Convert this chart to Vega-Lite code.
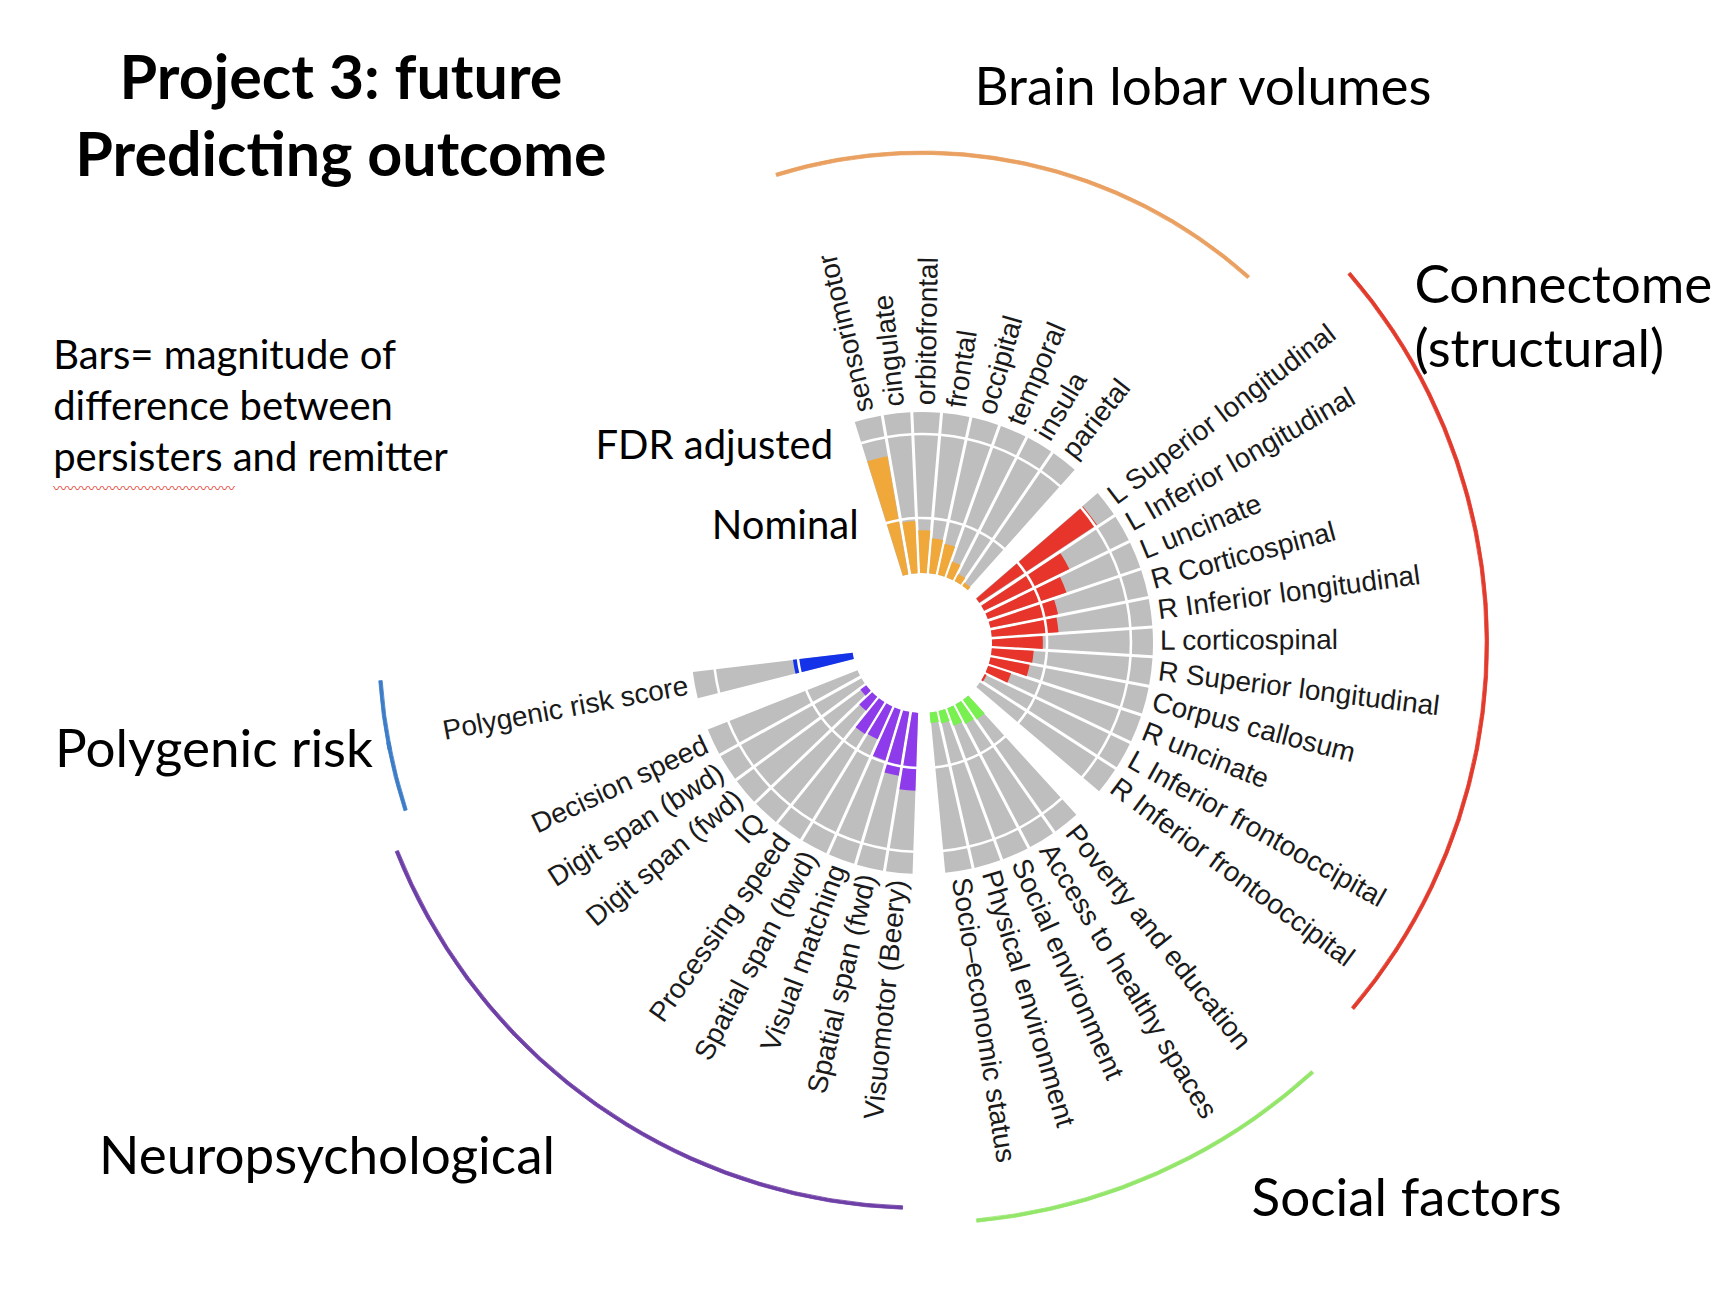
{
  "$schema": "https://vega.github.io/schema/vega-lite/v6.json",
  "width": 1608,
  "height": 1286,
  "autosize": {"type": "none"},
  "padding": {"left": 118, "top": 0, "right": 0, "bottom": 4},
  "background": "white",
  "config": {"view": {"stroke": null}},
  "data": {
    "values": [
      {"item": "sensorimotor", "group": "Brain lobar volumes", "magnitude": 2.83},
      {"item": "cingulate", "group": "Brain lobar volumes", "magnitude": 1.23},
      {"item": "orbitofrontal", "group": "Brain lobar volumes", "magnitude": 1.01},
      {"item": "frontal", "group": "Brain lobar volumes", "magnitude": 0.83},
      {"item": "occipital", "group": "Brain lobar volumes", "magnitude": 0.75},
      {"item": "temporal", "group": "Brain lobar volumes", "magnitude": 0.40},
      {"item": "insula", "group": "Brain lobar volumes", "magnitude": 0.19},
      {"item": "parietal", "group": "Brain lobar volumes", "magnitude": 0.09},
      {"item": "L Superior longitudinal", "group": "Connectome (structural)", "magnitude": 3.33},
      {"item": "L Inferior longitudinal", "group": "Connectome (structural)", "magnitude": 2.24},
      {"item": "L uncinate", "group": "Connectome (structural)", "magnitude": 1.96},
      {"item": "R Corticospinal", "group": "Connectome (structural)", "magnitude": 1.63},
      {"item": "R Inferior longitudinal", "group": "Connectome (structural)", "magnitude": 1.58},
      {"item": "L corticospinal", "group": "Connectome (structural)", "magnitude": 1.20},
      {"item": "R Superior longitudinal", "group": "Connectome (structural)", "magnitude": 0.99},
      {"item": "Corpus callosum", "group": "Connectome (structural)", "magnitude": 0.94},
      {"item": "R uncinate", "group": "Connectome (structural)", "magnitude": 0.57},
      {"item": "L Inferior frontooccipital", "group": "Connectome (structural)", "magnitude": 0.05},
      {"item": "R Inferior frontooccipital", "group": "Connectome (structural)", "magnitude": 0},
      {"item": "Poverty and education", "group": "Social factors", "magnitude": 0.57},
      {"item": "Access to healthy spaces", "group": "Social factors", "magnitude": 0.52},
      {"item": "Social environment", "group": "Social factors", "magnitude": 0.44},
      {"item": "Physical environment", "group": "Social factors", "magnitude": 0.30},
      {"item": "Socio–economic status", "group": "Social factors", "magnitude": 0.25},
      {"item": "Visuomotor (Beery)", "group": "Neuropsychological", "magnitude": 1.84},
      {"item": "Spatial span (fwd)", "group": "Neuropsychological", "magnitude": 1.53},
      {"item": "Visual matching", "group": "Neuropsychological", "magnitude": 1.25},
      {"item": "Spatial span (bwd)", "group": "Neuropsychological", "magnitude": 0.85},
      {"item": "Processing speed", "group": "Neuropsychological", "magnitude": 0.88},
      {"item": "IQ", "group": "Neuropsychological", "magnitude": 0.42},
      {"item": "Digit span (fwd)", "group": "Neuropsychological", "magnitude": 0.17},
      {"item": "Digit span (bwd)", "group": "Neuropsychological", "magnitude": 0},
      {"item": "Decision speed", "group": "Neuropsychological", "magnitude": 0},
      {"item": "Polygenic risk score", "group": "Polygenic risk", "magnitude": 1.42}
    ]
  },
  "layer": [
    {
      "mark": {"type": "arc", "color": "#bebebe", "padAngle": 0.0125},
      "encoding": {
        "theta": {
          "field": "item",
          "type": "nominal",
          "scale": {
            "type": "band",
            "domain": ["sensorimotor", "cingulate", "orbitofrontal", "frontal", "occipital", "temporal", "insula", "parietal", "gap1", "L Superior longitudinal", "L Inferior longitudinal", "L uncinate", "R Corticospinal", "R Inferior longitudinal", "L corticospinal", "R Superior longitudinal", "Corpus callosum", "R uncinate", "L Inferior frontooccipital", "R Inferior frontooccipital", "gap2", "Poverty and education", "Access to healthy spaces", "Social environment", "Physical environment", "Socio–economic status", "gap3", "Visuomotor (Beery)", "Spatial span (fwd)", "Visual matching", "Spatial span (bwd)", "Processing speed", "IQ", "Digit span (fwd)", "Digit span (bwd)", "Decision speed", "gap4", "Polygenic risk score"],
            "range": [-0.30177, 4.59283],
            "paddingInner": 0,
            "paddingOuter": 0
          }
        },
        "radius": {"datum": 3.8, "type": "quantitative", "scale": {"type": "linear", "domain": [0, 3.8], "range": [70, 231], "zero": false, "nice": false}},
        "radius2": {"datum": 0}
      }
    },
    {
      "mark": {"type": "arc", "padAngle": 0.018},
      "encoding": {
        "theta": {"field": "item", "type": "nominal"},
        "radius": {"field": "magnitude", "type": "quantitative"},
        "radius2": {"datum": 0},
        "color": {
          "field": "group",
          "type": "nominal",
          "scale": {"domain": ["Brain lobar volumes", "Connectome (structural)", "Social factors", "Neuropsychological", "Polygenic risk"], "range": ["#F0A83A", "#E8352B", "#78F050", "#8E3CEB", "#1433E8"]},
          "legend": null
        }
      }
    },
    {
      "mark": {"type": "arc", "color": "white"},
      "encoding": {
        "theta": {"field": "item", "type": "nominal"},
        "radius": {"datum": 1.33},
        "radius2": {"datum": 1.27}
      }
    },
    {
      "mark": {"type": "arc", "color": "white"},
      "encoding": {
        "theta": {"field": "item", "type": "nominal"},
        "radius": {"datum": 3.31},
        "radius2": {"datum": 3.25}
      }
    },
    {
      "transform": [{"filter": "datum.group !== 'Neuropsychological' && datum.group !== 'Polygenic risk'"}],
      "mark": {"type": "text", "align": "left", "baseline": "middle", "font": "Liberation Sans", "fontSize": 28, "fill": "#1a1a1a", "radiusOffset": 7, "angle": {"expr": "scale('theta', datum.item) * 180 / PI + bandwidth('theta') * 90 / PI - 90"}},
      "encoding": {
        "theta": {"field": "item", "type": "nominal"},
        "radius": {"datum": 3.8},
        "text": {"field": "item"}
      }
    },
    {
      "transform": [{"filter": "datum.group === 'Neuropsychological' || datum.group === 'Polygenic risk'"}],
      "mark": {"type": "text", "align": "right", "baseline": "middle", "font": "Liberation Sans", "fontSize": 28, "fill": "#1a1a1a", "radiusOffset": 7, "angle": {"expr": "scale('theta', datum.item) * 180 / PI + bandwidth('theta') * 90 / PI + 90"}},
      "encoding": {
        "theta": {"field": "item", "type": "nominal"},
        "radius": {"datum": 3.8},
        "text": {"field": "item"}
      }
    },
    {
      "transform": [{"filter": "datum.group === 'Brain lobar volumes'"}],
      "mark": {"type": "arc", "color": "#E9A060", "stroke": "#E9A060", "strokeWidth": 0.8},
      "encoding": {"theta": {"field": "item", "type": "nominal"}, "radius": {"datum": 9.96}, "radius2": {"datum": 9.88}}
    },
    {
      "transform": [{"filter": "datum.group === 'Connectome (structural)'"}],
      "mark": {"type": "arc", "color": "#E23A2C", "stroke": "#E23A2C", "strokeWidth": 0.8},
      "encoding": {"theta": {"field": "item", "type": "nominal"}, "radius": {"datum": 11.72}, "radius2": {"datum": 11.64}}
    },
    {
      "transform": [{"filter": "datum.group === 'Social factors'"}],
      "mark": {"type": "arc", "color": "#93E66A", "stroke": "#93E66A", "strokeWidth": 0.8},
      "encoding": {"theta": {"field": "item", "type": "nominal"}, "radius": {"datum": 12.08}, "radius2": {"datum": 12.0}}
    },
    {
      "transform": [{"filter": "datum.group === 'Neuropsychological'"}],
      "mark": {"type": "arc", "color": "#6E3FA6", "stroke": "#6E3FA6", "strokeWidth": 0.8},
      "encoding": {"theta": {"field": "item", "type": "nominal"}, "radius": {"datum": 11.72}, "radius2": {"datum": 11.64}}
    },
    {
      "transform": [{"filter": "datum.group === 'Polygenic risk'"}],
      "mark": {"type": "arc", "color": "#3D7DC8", "stroke": "#3D7DC8", "strokeWidth": 0.8, "thetaOffset": -0.065},
      "encoding": {"theta": {"field": "item", "type": "nominal"}, "radius": {"datum": 11.2}, "radius2": {"datum": 11.12}}
    },
    {
      "transform": [{"filter": "datum.group === 'Polygenic risk'"}],
      "mark": {"type": "arc", "color": "#3D7DC8", "stroke": "#3D7DC8", "strokeWidth": 0.8, "thetaOffset": 0.05},
      "encoding": {"theta": {"field": "item", "type": "nominal"}, "radius": {"datum": 11.2}, "radius2": {"datum": 11.12}}
    },
    {
      "data": {"values": [{"t": "Project 3: future\nPredicting outcome"}]},
      "mark": {"type": "text", "align": "center", "baseline": "alphabetic", "font": "Lato", "fontWeight": "bold", "fontSize": 61, "lineHeight": 77, "lineBreak": "\n", "fill": "black"},
      "encoding": {"theta": {"datum": "sensorimotor", "bandPosition": -4.01}, "radius": {"datum": 17.135}, "text": {"field": "t"}}
    },
    {
      "data": {"values": [{"t": "Brain lobar volumes"}]},
      "mark": {"type": "text", "align": "center", "baseline": "alphabetic", "font": "Lato", "fontSize": 53, "fill": "black"},
      "encoding": {"theta": {"datum": "sensorimotor", "bandPosition": 6.077}, "radius": {"datum": 12.68}, "text": {"field": "t"}}
    },
    {
      "data": {"values": [{"t": "Connectome\n(structural)"}]},
      "mark": {"type": "text", "align": "left", "baseline": "alphabetic", "font": "Lato", "fontSize": 53, "lineHeight": 64, "lineBreak": "\n", "fill": "black"},
      "encoding": {"theta": {"datum": "sensorimotor", "bandPosition": 9.844}, "radius": {"datum": 12.476}, "text": {"field": "t"}}
    },
    {
      "data": {"values": [{"t": "Polygenic risk"}]},
      "mark": {"type": "text", "align": "left", "baseline": "alphabetic", "font": "Lato", "fontSize": 53, "fill": "black"},
      "encoding": {"theta": {"datum": "sensorimotor", "bandPosition": 37.826}, "radius": {"datum": 19.017}, "text": {"field": "t"}}
    },
    {
      "data": {"values": [{"t": "Neuropsychological"}]},
      "mark": {"type": "text", "align": "left", "baseline": "alphabetic", "font": "Lato", "fontSize": 53, "fill": "black"},
      "encoding": {"theta": {"datum": "sensorimotor", "bandPosition": 34.482}, "radius": {"datum": 21.46}, "text": {"field": "t"}}
    },
    {
      "data": {"values": [{"t": "Social factors"}]},
      "mark": {"type": "text", "align": "left", "baseline": "alphabetic", "font": "Lato", "fontSize": 53, "fill": "black"},
      "encoding": {"theta": {"datum": "sensorimotor", "bandPosition": 22.683}, "radius": {"datum": 13.958}, "text": {"field": "t"}}
    },
    {
      "data": {"values": [{"t": "Bars= magnitude of\ndifference between\npersisters and remitter"}]},
      "mark": {"type": "text", "align": "left", "baseline": "alphabetic", "font": "Lato", "fontSize": 40, "lineHeight": 51, "lineBreak": "\n", "fill": "black"},
      "encoding": {"theta": {"datum": "sensorimotor", "bandPosition": -7.481}, "radius": {"datum": 19.85}, "text": {"field": "t"}}
    },
    {
      "data": {"values": [{"t": "〰〰〰〰〰〰〰〰〰〰〰〰〰"}]},
      "mark": {"type": "text", "align": "left", "baseline": "middle", "font": "Noto Sans CJK SC", "fontSize": 14, "fill": "#E33B2E"},
      "encoding": {"theta": {"datum": "sensorimotor", "bandPosition": -8.491}, "radius": {"datum": 19.176}, "text": {"field": "t"}}
    },
    {
      "data": {"values": [{"t": "FDR adjusted"}]},
      "mark": {"type": "text", "align": "right", "baseline": "alphabetic", "font": "Lato", "fontSize": 40, "fill": "black"},
      "encoding": {"theta": {"datum": "sensorimotor", "bandPosition": -1.153}, "radius": {"datum": 3.172}, "text": {"field": "t"}}
    },
    {
      "data": {"values": [{"t": "Nominal"}]},
      "mark": {"type": "text", "align": "right", "baseline": "alphabetic", "font": "Lato", "fontSize": 40, "fill": "black"},
      "encoding": {"theta": {"datum": "sensorimotor", "bandPosition": -1.92}, "radius": {"datum": 1.215}, "text": {"field": "t"}}
    }
  ]
}
